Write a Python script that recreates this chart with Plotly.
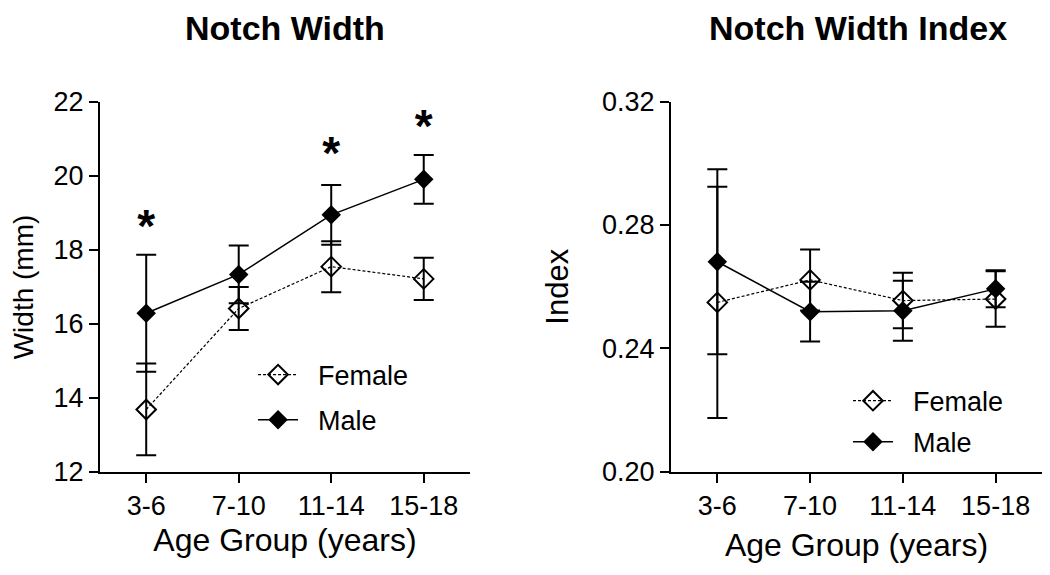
import plotly.graph_objects as go

# ---------------- data ----------------
age_groups = ["3-6", "7-10", "11-14", "15-18"]

width_female = [13.69, 16.42, 17.55, 17.22]
width_female_err = [1.24, 0.58, 0.69, 0.57]
width_male = [16.29, 17.34, 18.95, 19.91]
width_male_err = [1.58, 0.78, 0.81, 0.66]

index_female = [0.2549, 0.2622, 0.2555, 0.2560]
index_female_err = [0.0375, 0.0099, 0.0090, 0.0090]
index_male = [0.2681, 0.2519, 0.2522, 0.2593]
index_male_err = [0.0300, 0.0097, 0.0097, 0.0060]

star_groups = ["3-6", "11-14", "15-18"]
star_levels = [18.53, 20.51, 21.23]

width_ticks = [12, 14, 16, 18, 20, 22]
index_ticks = [0.20, 0.24, 0.28, 0.32]

FONT = "Liberation Sans, Arial, Helvetica, sans-serif"
PAD = "\u00a0\u00a0"

fig = go.Figure()


def add_pair(xa, ya, legend, fvals, ferr, mvals, merr):
    fig.add_trace(go.Scatter(
        x=age_groups, y=mvals, name=PAD + "Male", xaxis=xa, yaxis=ya,
        legend=legend, legendgroup=legend + "m", mode="lines+markers",
        line=dict(color="black", width=1.5),
        marker=dict(symbol="diamond", size=15, color="black"),
        error_y=dict(type="data", array=merr, color="black", thickness=2, width=10),
        legendrank=2,
    ))
    fig.add_trace(go.Scatter(
        x=age_groups, y=fvals, name=PAD + "Female", xaxis=xa, yaxis=ya,
        legend=legend, legendgroup=legend + "f", mode="lines+markers",
        line=dict(color="black", width=1.2, dash="3px,2px"),
        marker=dict(symbol="diamond-open", size=15, color="black",
                    line=dict(width=2, color="black")),
        error_y=dict(type="data", array=ferr, color="black", thickness=2, width=10),
        legendrank=1,
    ))


add_pair("x", "y", "legend", width_female, width_female_err, width_male, width_male_err)
add_pair("x2", "y2", "legend2", index_female, index_female_err, index_male, index_male_err)

fig.add_trace(go.Scatter(
    x=star_groups, y=star_levels, mode="text", text=["<b>*</b>"] * len(star_groups),
    textposition="middle center", textfont=dict(size=46, color="black", family=FONT),
    showlegend=False, xaxis="x", yaxis="y", hoverinfo="skip",
))

axis_common = dict(
    showline=True, linecolor="black", linewidth=2, ticks="outside", ticklen=9,
    tickwidth=2, tickcolor="black", showgrid=False, zeroline=False,
    tickfont=dict(size=27, color="black", family=FONT), automargin=False,
)

x_common = dict(axis_common, type="category", categoryorder="array",
                categoryarray=age_groups, range=[-0.5, 3.5])

legend_common = dict(
    font=dict(size=27, color="black", family=FONT), bgcolor="rgba(0,0,0,0)",
    itemwidth=40, yanchor="middle", xanchor="left",
    itemclick=False, traceorder="grouped",
)

fig.update_layout(
    width=1050, height=575,
    margin=dict(l=0, r=0, t=0, b=0),
    paper_bgcolor="white", plot_bgcolor="white",
    font=dict(family=FONT, color="black"),
    showlegend=True,
    xaxis=dict(x_common, domain=[0.0952, 0.4476], anchor="y",
               title=dict(text="Age Group (years)", font=dict(size=32, family=FONT), standoff=8)),
    yaxis=dict(axis_common, domain=[0.1791, 0.8226], anchor="x", range=[12, 22],
               tickvals=width_ticks,
               title=dict(text="Width (mm)", font=dict(size=28, family=FONT), standoff=12)),
    xaxis2=dict(x_common, domain=[0.6390, 0.9924], anchor="y2",
                title=dict(text="Age Group (years)", font=dict(size=32, family=FONT), standoff=14)),
    yaxis2=dict(axis_common, domain=[0.1797, 0.8231], anchor="x2", range=[0.20, 0.32],
                tickvals=index_ticks, tickformat=".2f",
                title=dict(text="Index", font=dict(size=31, family=FONT), standoff=24)),
    legend=dict(legend_common, x=0.241, y=0.3087, tracegroupgap=7),
    legend2=dict(legend_common, x=0.8076, y=0.2667, tracegroupgap=3),
    annotations=[
        dict(text="<b>Notch Width</b>", x=0.2714, y=0.951, xref="paper", yref="paper",
             showarrow=False, font=dict(size=34, family=FONT, color="black"),
             xanchor="center", yanchor="middle"),
        dict(text="<b>Notch Width Index</b>", x=0.817, y=0.951, xref="paper", yref="paper",
             showarrow=False, font=dict(size=34, family=FONT, color="black"),
             xanchor="center", yanchor="middle"),
    ],
)

fig.write_html("out.html", config={"displayModeBar": False},
               post_script="document.body.style.margin='0';document.body.style.padding='0';")
